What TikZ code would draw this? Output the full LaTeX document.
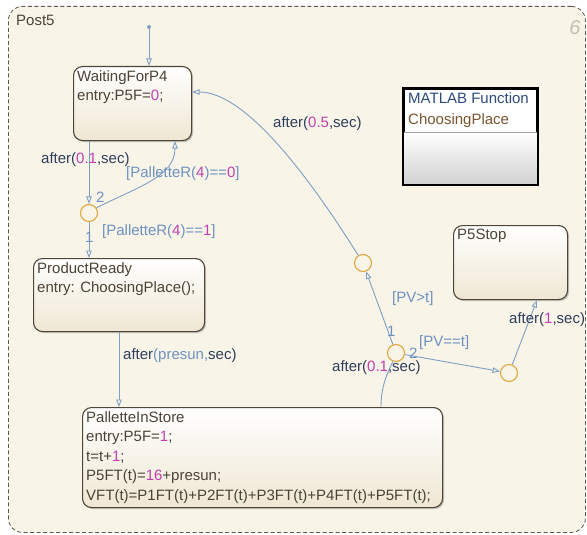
\documentclass[tikz,border=0pt]{standalone}
\usepackage{fontspec}
\setmainfont{Liberation Sans}
\usetikzlibrary{arrows.meta,shadows,calc}
\definecolor{bg}{HTML}{F8F4E8}
\definecolor{outline}{HTML}{5E574C}
\definecolor{stborder}{HTML}{4F4639}
\definecolor{stbottom}{HTML}{EFE7D3}
\definecolor{sttext}{HTML}{4B4336}
\definecolor{trans}{HTML}{7EA0C4}
\definecolor{guard}{HTML}{6E92C0}
\definecolor{dark}{HTML}{2E3E5C}
\definecolor{mag}{HTML}{C040B0}
\definecolor{junc}{HTML}{E2A73C}
\definecolor{sixgray}{HTML}{C4BDB0}
\definecolor{mftitle}{HTML}{2F4B7C}
\definecolor{mfname}{HTML}{7A5530}
\newcommand{\mgn}[1]{\textcolor{mag}{#1}}
\newcommand{\dk}[1]{\textcolor{dark}{#1}}
\newcommand{\gd}[1]{\textcolor{guard}{#1}}
\begin{document}
\begin{tikzpicture}[x=1pt,y=-1pt,
  every node/.style={font=\fontsize{15}{19.5}\selectfont},
  statebox/.style={draw=stborder, line width=1.1pt, rounded corners=9pt,
    top color=white, bottom color=stbottom, anchor=north west, inner sep=0pt,
    drop shadow={shadow xshift=1.5pt, shadow yshift=-1.5pt, opacity=0.35, fill=black!60}},
  stext/.style={anchor=north west, inner sep=0pt, align=left, text=sttext},
  junction/.style={circle, draw=junc, line width=1.1pt, fill=bg, minimum size=17pt, inner sep=0pt},
  tr/.style={draw=trans, line width=0.9pt, -{Triangle[open, length=7.5pt, width=5.5pt]}},
  trplain/.style={draw=trans, line width=0.9pt},
  lbl/.style={anchor=west, inner sep=0pt}
]
\useasboundingbox (0,0) rectangle (587,535);
\fill[white] (0,0) rectangle (587,535);
% outer chart
\node[draw=outline, dash pattern=on 4pt off 2.5pt, line width=0.8pt, fill=bg,
  rounded corners=14pt, anchor=north west, inner sep=0pt,
  minimum width=577pt, minimum height=526pt] (post) at (8,6) {};
\node[lbl, text=sttext] (postl) at (16,20) {Post5};
\node[text=sixgray, font=\fontsize{20}{20}\selectfont\itshape] (six) at (575,28) {6};

% states
\node[statebox, minimum width=118pt, minimum height=74pt] (wait) at (73,66) {};
\node[stext] (waitt) at ($(wait.north west)+(4,4)$) {WaitingForP4\\entry:P5F=\mgn{0};};

\node[statebox, minimum width=171pt, minimum height=73pt] (prod) at (33,258) {};
\node[stext] (prodt) at ($(prod.north west)+(4,4)$) {ProductReady\\entry: ChoosingPlace();};

\node[statebox, minimum width=360pt, minimum height=100pt] (store) at (82,407) {};
\node[stext] (storet) at ($(store.north west)+(4,4)$) {PalletteInStore\\entry:P5F=\mgn{1};\\t=t+\mgn{1};\\P5FT(t)=\mgn{16}+presun;\\VFT(t)=P1FT(t)+P2FT(t)+P3FT(t)+P4FT(t)+P5FT(t);};

\node[statebox, minimum width=114pt, minimum height=74pt] (stop) at (453,225) {};
\node[stext] (stopt) at ($(stop.north west)+(4,4)$) {P5Stop};

% MATLAB function
\node[draw=black, line width=2pt, fill=white, anchor=north west, inner sep=0pt,
  minimum width=133pt, minimum height=95pt,
  drop shadow={shadow xshift=1.5pt, shadow yshift=-1.5pt, opacity=0.3, fill=black!60}] (mfun) at (403,88) {};
\shade[top color=white, bottom color=black!18] ($(mfun.north west)+(0,44)$) rectangle (mfun.south east);
\draw[black!35, line width=0.6pt] ($(mfun.north west)+(0,44)$) -- ($(mfun.north east)+(0,44)$);
\draw[black, line width=2pt] (mfun.north west) rectangle (mfun.south east);
\node[stext, text=mftitle] (mft) at ($(mfun.north west)+(5,4)$) {MATLAB Function};
\node[stext, text=mfname] (mfn) at ($(mfun.north west)+(5,25)$) {ChoosingPlace};

% junctions
\node[junction] (j1) at (89,213) {};
\node[junction] (j3) at (396,353) {};
\node[junction] (j4) at (363,263) {};
\node[junction] (j5) at (509,373) {};
\node[circle, fill=trans, inner sep=0pt, minimum size=4pt] (init) at (149,27) {};

% transitions
\draw[tr] (init) -- (init |- wait.north);
\draw[tr] (j1 |- wait.south) -- (j1.north);
\draw[tr] (j1.35) .. controls (140,186) and (175,176) .. ($(wait.south west)+(102,0)$);
\draw[tr] (j1.south) -- (j1 |- prod.north);
\draw[tr] ($(prod.south west)+(86,0)$) -- ($(store.north west)+(37,0)$);
\draw[trplain] ($(store.north west)+(299,0)$) .. controls (381,385) and (388,372) .. (j3.250);
\draw[tr] (j3) -- (j4);
\draw[tr] (j4) .. controls (308,175) and (245,92) .. ($(wait.north east)+(0,26)$);
\draw[tr] (j3) -- (j5);
\draw[tr] (j5) -- ($(stop.south west)+(84,0)$);

% labels
\node[lbl] (la) at (41,160) {\dk{after(}\mgn{0.1}\dk{,sec)}};
\node[lbl] (lb) at (96,197) {\gd{2}};
\node[lbl] (lc) at (126,174) {\gd{[PalletteR(}\mgn{4}\gd{)==}\mgn{0}\gd{]}};
\node[lbl] (ld) at (85,237) {\gd{1}};
\node[lbl] (le) at (102,232) {\gd{[PalletteR(}\mgn{4}\gd{)==}\mgn{1}\gd{]}};
\node[lbl] (lf) at (123,356) {\dk{after}\gd{(presun,}\dk{sec)}};
\node[lbl] (lg) at (273,124) {\dk{after(}\mgn{0.5}\dk{,sec)}};
\node[lbl] (lh) at (392,299) {\gd{[PV>t]}};
\node[lbl] (li) at (387,331) {\gd{1}};
\node[lbl] (lj) at (409,353) {\gd{2}};
\node[lbl] (lk) at (419,343) {\gd{[PV==t]}};
\node[lbl] (ll) at (332,368) {\dk{after(}\mgn{0.1}\dk{,sec)}};
\node[lbl] (lm) at (509,320) {\dk{after(}\mgn{1}\dk{,sec)}};
\end{tikzpicture}
\end{document}
